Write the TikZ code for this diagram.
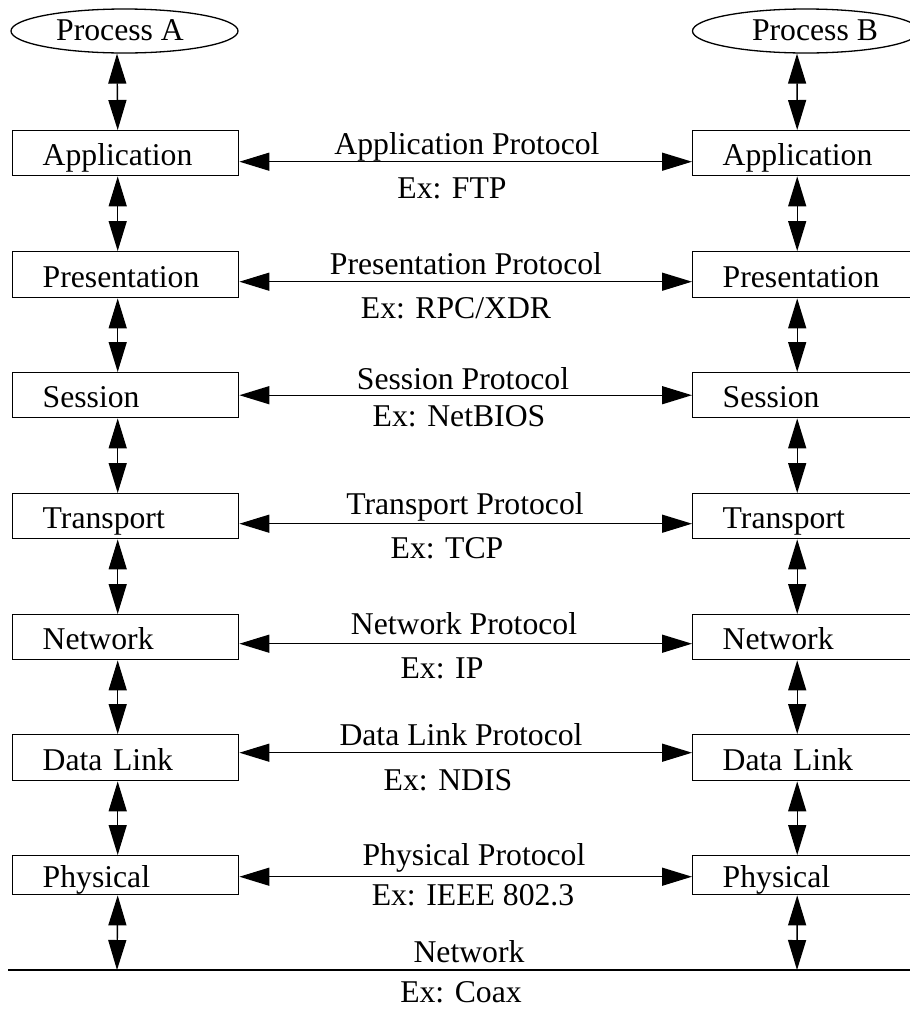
\documentclass[tikz,border=0pt]{standalone}
\usepackage{fontspec}
\setmainfont{Liberation Serif}
\usetikzlibrary{arrows.meta,shapes.geometric}

\tikzset{
  every node/.style={font=\fontsize{31.7}{38}\selectfont},
  layerbox/.style={draw, line width=1.4pt, anchor=north west, align=left,
    text width=166pt, inner xsep=30pt, inner ysep=0pt,
    text height=28pt, text depth=3pt, minimum height=45pt},
  procbox/.style={draw, ellipse, line width=1.3pt, inner sep=0pt,
    minimum width=227pt, minimum height=44pt},
  lbl/.style={anchor=base, inner sep=0pt},
  link/.style={line width=1.4pt, {Triangle[length=30pt,width=18pt]}-{Triangle[length=30pt,width=18pt]}},
  wire/.style={line width=1.7pt}
}

\begin{document}
\begin{tikzpicture}[x=1pt, y=-1pt]
\useasboundingbox (0,0) rectangle (910,1010);
\clip (0,0) rectangle (910,1010);

% the two end processes
\node[procbox] (pA) at (124.5,31) {};
\node[procbox] (pB) at (806,31) {};
\node[lbl] (tA) at (120,40) {Process A};
\node[lbl] (tB) at (815,40) {Process B};

% protocol stacks, host A on the left and host B on the right
\foreach \n/\t/\top/\h in {app/Application/130/45, pres/Presentation/251/46,
    sess/Session/372/45, trans/Transport/493/45, net/Network/614/45,
    dl/Data Link/734/46, phys/Physical/855/39} {
  \node[layerbox, minimum height=\h pt] (\n L) at (12,\top) {\t};
  \node[layerbox, minimum height=\h pt] (\n R) at (692,\top) {\t};
}

% peer-to-peer protocol arrows
\foreach \n/\dy in {app/-8.5, pres/-7, sess/0, trans/-7.5, net/-6.5, dl/5, phys/-1.5} {
  \draw[link] ([yshift=\dy pt]\n L.east) -- ([yshift=\dy pt]\n R.west);
}

% protocol names and examples
\node[lbl] (lApp)  at (467,154) {Application Protocol};
\node[lbl] (eApp)  at (452,198) {Ex: FTP};
\node[lbl] (lPres) at (466,274) {Presentation Protocol};
\node[lbl] (ePres) at (456,318) {Ex: RPC/XDR};
\node[lbl] (lSess) at (463,389) {Session Protocol};
\node[lbl] (eSess) at (459,426) {Ex: NetBIOS};
\node[lbl] (lTr)   at (465,514) {Transport Protocol};
\node[lbl] (eTr)   at (447,558) {Ex: TCP};
\node[lbl] (lNet)  at (464,634) {Network Protocol};
\node[lbl] (eNet)  at (442,678) {Ex: IP};
\node[lbl] (lDl)   at (461,745) {Data Link Protocol};
\node[lbl] (eDl)   at (448,790) {Ex: NDIS};
\node[lbl] (lPh)   at (474,865) {Physical Protocol};
\node[lbl] (ePh)   at (473,905) {Ex: IEEE 802.3};
\node[lbl] (lMed)  at (469,962) {Network};
\node[lbl] (eMed)  at (461,1002) {Ex: Coax};

% vertical interfaces between adjacent layers
\draw[link] ([xshift=-7.5pt]pA.south) -- ([xshift=-8pt]appL.north);
\draw[link] ([xshift=-9pt]pB.south) -- ([xshift=-8.5pt]appR.north);
\foreach \a/\b in {app/pres, pres/sess, sess/trans, trans/net, net/dl, dl/phys} {
  \draw[link] ([xshift=-8pt]\a L.south) -- ([xshift=-8pt]\b L.north);
  \draw[link] ([xshift=-8.5pt]\a R.south) -- ([xshift=-8.5pt]\b R.north);
}

% the shared transmission medium
\coordinate (medL) at (8,970);
\coordinate (medR) at (915,970);
\coordinate (tapL) at (117,970);
\coordinate (tapR) at (797,970);
\draw[wire] (medL) -- (medR);
\draw[link] ([xshift=-8pt]physL.south) -- (tapL);
\draw[link] ([xshift=-8.5pt]physR.south) -- (tapR);
\end{tikzpicture}
\end{document}
